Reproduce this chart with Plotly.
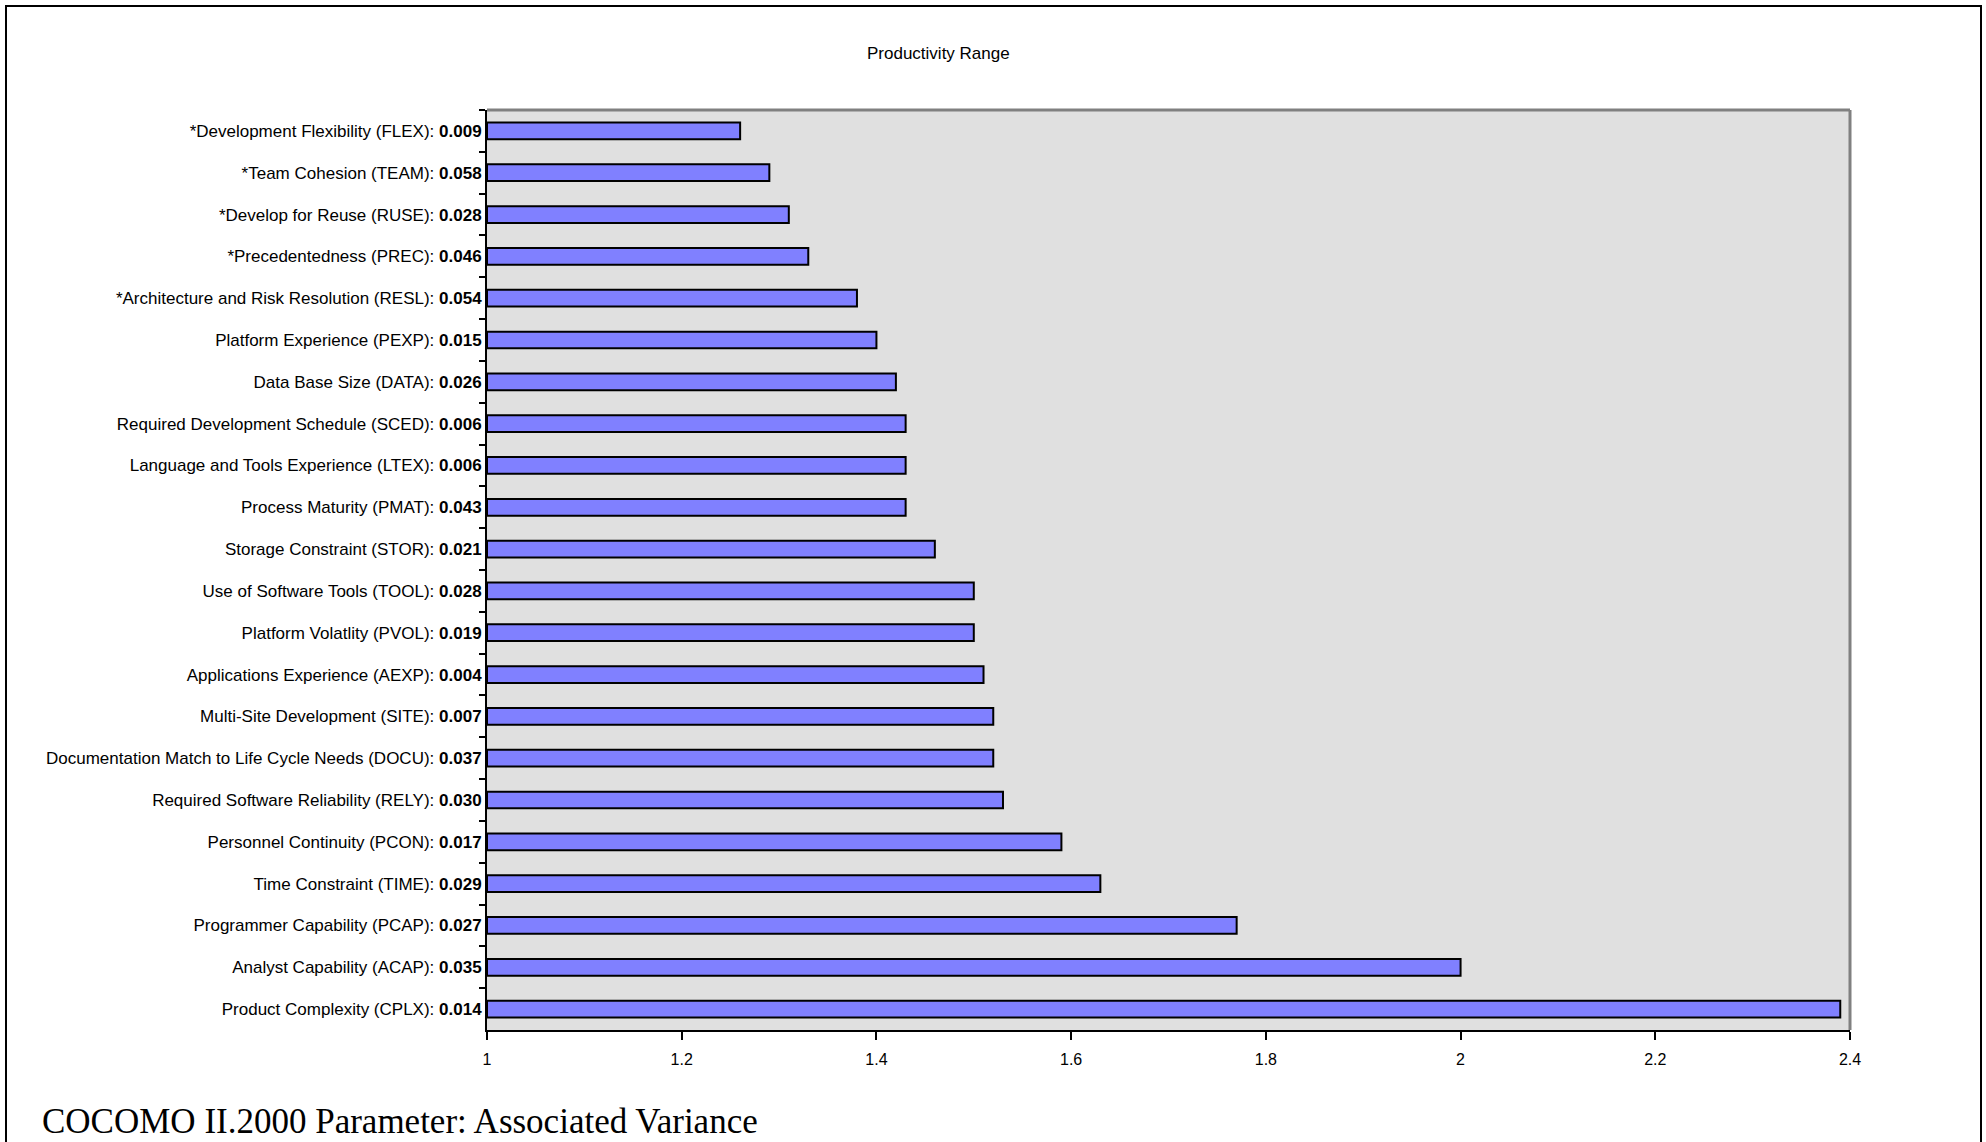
import plotly.graph_objects as go

# COCOMO II.2000 cost drivers, listed from top of the chart to bottom
drivers = [
    "*Development Flexibility (FLEX)",
    "*Team Cohesion (TEAM)",
    "*Develop for Reuse (RUSE)",
    "*Precedentedness (PREC)",
    "*Architecture and Risk Resolution (RESL)",
    "Platform Experience (PEXP)",
    "Data Base Size (DATA)",
    "Required Development Schedule (SCED)",
    "Language and Tools Experience (LTEX)",
    "Process Maturity (PMAT)",
    "Storage Constraint (STOR)",
    "Use of Software Tools (TOOL)",
    "Platform Volatlity (PVOL)",
    "Applications Experience (AEXP)",
    "Multi-Site Development (SITE)",
    "Documentation Match to Life Cycle Needs (DOCU)",
    "Required Software Reliability (RELY)",
    "Personnel Continuity (PCON)",
    "Time Constraint (TIME)",
    "Programmer Capability (PCAP)",
    "Analyst Capability (ACAP)",
    "Product Complexity (CPLX)",
]

# Associated variance of each driver
variances = [
    "0.009", "0.058", "0.028", "0.046", "0.054", "0.015", "0.026", "0.006",
    "0.006", "0.043", "0.021", "0.028", "0.019", "0.004", "0.007", "0.037",
    "0.030", "0.017", "0.029", "0.027", "0.035", "0.014",
]

# Productivity range of each driver
prod_range = [
    1.26, 1.29, 1.31, 1.33, 1.38, 1.40, 1.42, 1.43, 1.43, 1.43, 1.46,
    1.50, 1.50, 1.51, 1.52, 1.52, 1.53, 1.59, 1.63, 1.77, 2.00, 2.39,
]

x_ticks = [1, 1.2, 1.4, 1.6, 1.8, 2, 2.2, 2.4]
x_tick_text = ["1", "1.2", "1.4", "1.6", "1.8", "2", "2.2", "2.4"]

labels = [f"{d}: <b>{v}</b>" for d, v in zip(drivers, variances)]
base = 1.0

fig = go.Figure(
    go.Bar(
        y=labels,
        x=[p - base for p in prod_range],
        base=base,
        orientation="h",
        marker=dict(color="#8080FF", line=dict(color="black", width=2)),
        hoverinfo="skip",
    )
)

W, H = 1986, 1142
L, R, T, B = 487, 136, 110, 112

fig.update_layout(
    width=W,
    height=H,
    margin=dict(l=L, r=R, t=T, b=B),
    paper_bgcolor="white",
    plot_bgcolor="#E0E0E0",
    bargap=0.6,
    showlegend=False,
    font=dict(family="Liberation Sans, Arial, sans-serif", color="black"),
)

fig.update_xaxes(
    range=[1, 2.4],
    tickvals=x_ticks,
    ticktext=x_tick_text,
    showgrid=False,
    zeroline=False,
    showline=True,
    linecolor="black",
    linewidth=2,
    ticks="outside",
    ticklen=8,
    tickwidth=2,
    tickcolor="black",
    tickfont=dict(size=16),
    ticklabelstandoff=6,
)

fig.update_yaxes(
    categoryorder="array",
    categoryarray=labels,
    autorange="reversed",
    showgrid=False,
    showline=True,
    linecolor="black",
    linewidth=2,
    ticks="outside",
    tickson="boundaries",
    ticklen=6,
    tickwidth=2,
    tickcolor="black",
    tickfont=dict(size=17),
    ticklabelstandoff=0,
)

# gray frame on the top and right of the plot area
fig.add_shape(type="line", xref="paper", yref="paper", x0=0, x1=1, y0=1, y1=1,
              line=dict(color="#808080", width=3))
fig.add_shape(type="line", xref="paper", yref="paper", x0=1, x1=1, y0=0, y1=1,
              line=dict(color="#808080", width=3))

# outer black border around the whole chart
def px_x(v):
    return (v - L) / (W - L - R)

def px_y(v):
    return 1 - (v - T) / (H - T - B)

fig.add_shape(type="rect", xref="paper", yref="paper",
              x0=px_x(6), x1=px_x(1981), y0=px_y(1160), y1=px_y(6),
              line=dict(color="black", width=2), fillcolor="rgba(0,0,0,0)",
              layer="below")

fig.add_annotation(
    text="Productivity Range", xref="paper", yref="paper",
    x=px_x(938), y=px_y(54), showarrow=False,
    font=dict(size=17, family="Liberation Sans, Arial, sans-serif"),
    xanchor="center", yanchor="middle",
)

fig.add_annotation(
    text="COCOMO II.2000 Parameter: Associated Variance", xref="paper", yref="paper",
    x=px_x(40), y=px_y(1121), showarrow=False,
    font=dict(size=35, family="Liberation Serif, Times New Roman, serif"),
    xanchor="left", yanchor="middle",
)

fig.write_html("out.html")
